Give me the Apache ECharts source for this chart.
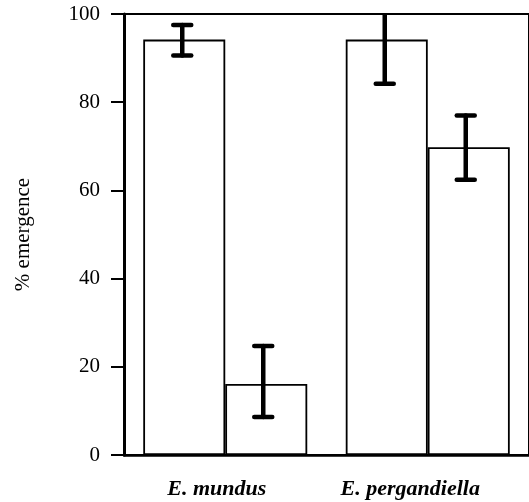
<!DOCTYPE html>
<html>
<head>
<meta charset="utf-8">
<script src="https://cdn.jsdelivr.net/npm/echarts@6/dist/echarts.min.js"></script>
<style>
  html, body { margin: 0; padding: 0; background: #fff; }
  #chart { width: 529px; height: 502px; }
</style>
</head>
<body>
<div id="chart"></div>
<script>
  // species on the x axis
  let species = ['E. mundus', 'E. pergandiella'];
  // labels sit a little left of their ticks in the original
  let labelShift = [17, 35];
  // first bar of each pair
  let barsA = [94.2, 94.2];
  let lowA = [90.6, 84.2];
  let highA = [97.5, 104.0];
  // second bar of each pair
  let barsB = [16.1, 69.8];
  let lowB = [8.6, 62.4];
  let highB = [24.7, 77.0];
  let yTicks = [0, 20, 40, 60, 80, 100];

  let font = 'Liberation Serif';

  function errorItem(side) {
    return function (params, api) {
      let i = api.value(0);
      let band = api.size([1, 0])[0];
      let x = api.coord([i, 0])[0] + side * band * 0.2 - 2.5;
      let top = api.coord([i, api.value(2)])[1];
      let bot = api.coord([i, api.value(1)])[1];
      let half = 9;
      let style = { stroke: '#000', lineWidth: 4.5, lineCap: 'round' };
      return {
        type: 'group',
        children: [
          { type: 'line', shape: { x1: x, y1: top, x2: x, y2: bot }, style: style },
          { type: 'line', shape: { x1: x - half, y1: top, x2: x + half, y2: top }, style: style },
          { type: 'line', shape: { x1: x - half, y1: bot, x2: x + half, y2: bot }, style: style }
        ]
      };
    };
  }

  let dom = document.getElementById('chart');
  let myChart = echarts.init(dom);
  let option = {
    animation: false,
    grid: {
      left: 124,
      right: -6,
      top: 14,
      bottom: 47,
      show: true,
      borderColor: '#000',
      borderWidth: 2
    },
    xAxis: {
      type: 'category',
      data: species.map((s, i) => ({
        value: s,
        textStyle: { padding: [0, labelShift[i], 0, 0] }
      })),
      axisLine: { lineStyle: { color: '#000', width: 2.5 } },
      axisTick: { alignWithLabel: true, length: 12, lineStyle: { color: '#000', width: 2 } },
      axisLabel: {
        margin: 23,
        color: '#000',
        fontFamily: font,
        fontSize: 22,
        fontWeight: 'bold',
        fontStyle: 'italic'
      }
    },
    yAxis: {
      type: 'value',
      min: yTicks[0],
      max: yTicks[yTicks.length - 1],
      interval: 20,
      name: '% emergence',
      nameLocation: 'middle',
      nameGap: 90,
      nameTextStyle: { color: '#000', fontFamily: font, fontSize: 21 },
      splitLine: { show: false },
      axisLine: { show: true, lineStyle: { color: '#000', width: 3 } },
      axisTick: { show: true, length: 13, lineStyle: { color: '#000', width: 2 } },
      axisLabel: { margin: 24, color: '#000', fontFamily: font, fontSize: 21 }
    },
    series: [
      {
        type: 'bar',
        data: barsA,
        barWidth: 82,
        barGap: 0,
        itemStyle: { color: '#fff', borderColor: '#000', borderWidth: 1.8 }
      },
      {
        type: 'bar',
        data: barsB,
        barWidth: 82,
        barGap: 0,
        itemStyle: { color: '#fff', borderColor: '#000', borderWidth: 1.8 }
      },
      {
        type: 'custom',
        clip: true,
        z: 5,
        renderItem: errorItem(-1),
        data: species.map((s, i) => [i, lowA[i], highA[i]])
      },
      {
        type: 'custom',
        clip: true,
        z: 5,
        renderItem: errorItem(1),
        data: species.map((s, i) => [i, lowB[i], highB[i]])
      }
    ]
  };
  myChart.setOption(option);
  window.addEventListener('resize', () => { myChart.resize() });
</script>
</body>
</html>
